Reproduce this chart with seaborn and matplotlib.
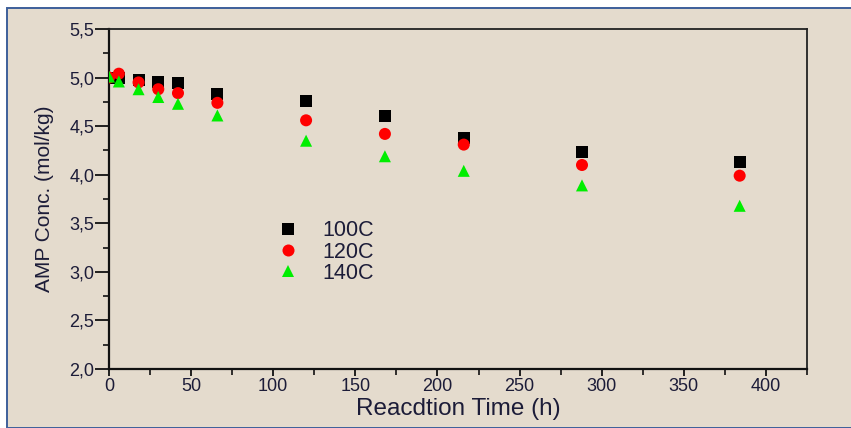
import numpy as np
import pandas as pd
import matplotlib
matplotlib.use("Agg")
import matplotlib.pyplot as plt
from matplotlib.ticker import MultipleLocator, FuncFormatter
from matplotlib.patches import Rectangle
import seaborn as sns

times = [0, 6, 18, 30, 42, 66, 120, 168, 216, 288, 384]
conc_100C = [5.00, 5.00, 4.97, 4.95, 4.94, 4.83, 4.76, 4.60, 4.38, 4.23, 4.13]
conc_120C = [5.00, 5.04, 4.95, 4.88, 4.84, 4.74, 4.56, 4.42, 4.31, 4.10, 3.99]
conc_140C = [5.01, 4.96, 4.88, 4.80, 4.73, 4.61, 4.35, 4.19, 4.04, 3.89, 3.68]
series_labels = ["100C", "120C", "140C"]

df = pd.concat([
    pd.DataFrame({"t": times, "c": vals, "T": lab})
    for vals, lab in zip([conc_100C, conc_120C, conc_140C], series_labels)
], ignore_index=True)

sns.set_theme(style="white")
bg = "#e4dbcd"
txt = "#1c1c38"
plt.rcParams["font.family"] = ["Liberation Sans", "DejaVu Sans"]

fig = plt.figure(figsize=(8.51, 4.28), dpi=100)
fig.patch.set_facecolor("white")
# beige panel with blue border
border = Rectangle((7/851, 0.5/428), 1.2, 420/428, transform=fig.transFigure,
                   facecolor=bg, edgecolor="#3d5f9a", linewidth=1.4, zorder=-10)
fig.patches.append(border)
ax = fig.add_axes([109/851, 59/428, 698/851, 340/428])
ax.set_zorder(1)
ax.set_facecolor(bg)

palette = {"100C": "#000000", "120C": "#ff0000", "140C": "#00ee00"}
markers = {"100C": "s", "120C": "o", "140C": "^"}
sns.scatterplot(data=df, x="t", y="c", hue="T", style="T", palette=palette,
                markers=markers, s=75, linewidth=0, edgecolor="none", ax=ax, zorder=3)

ax.set_xlim(0, 425)
ax.set_ylim(2.0, 5.5)
ax.xaxis.set_major_locator(MultipleLocator(50))
ax.xaxis.set_minor_locator(MultipleLocator(25))
ax.yaxis.set_major_locator(MultipleLocator(0.5))
ax.yaxis.set_minor_locator(MultipleLocator(0.25))
ax.yaxis.set_major_formatter(FuncFormatter(lambda v, p: f"{v:.1f}".replace(".", ",")))
ax.tick_params(axis="both", which="major", direction="out", width=1.3,
               labelsize=13, colors="#111111", labelcolor=txt, bottom=True, left=True)
ax.tick_params(axis="y", which="major", length=10, pad=0.5)
ax.tick_params(axis="x", which="major", length=5, pad=1.5)
ax.tick_params(axis="both", which="minor", direction="out", length=4, width=1.2,
               colors="#111111", bottom=True, left=True)
for side in ["left", "bottom"]:
    ax.spines[side].set_linewidth(1.6)
    ax.spines[side].set_color("#111111")
for side in ["top", "right"]:
    ax.spines[side].set_linewidth(1.3)
    ax.spines[side].set_color("#222222")

ax.set_xlabel("Reacdtion Time (h)", fontsize=17.5, color=txt, labelpad=2.5)
ax.set_ylabel("AMP Conc. (mol/kg)", fontsize=15, color=txt, labelpad=11)

handles, labels = ax.get_legend_handles_labels()
ax.legend(handles, labels, frameon=False, fontsize=15.5, loc="upper left",
          bbox_to_anchor=(0.198, 0.495), labelspacing=0.02, handletextpad=0.6,
          markerscale=1.0, labelcolor=txt)

fig.savefig("out.png", dpi=100, facecolor=fig.get_facecolor())
